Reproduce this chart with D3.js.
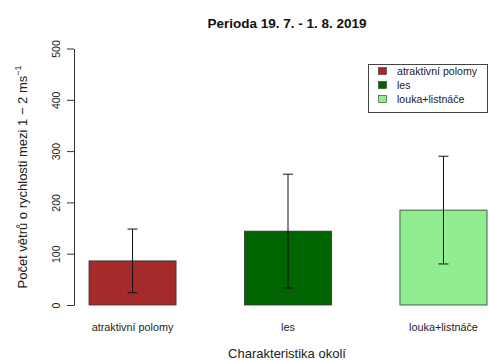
<!DOCTYPE html>
<html>
<head>
<meta charset="utf-8">
<script src="https://cdn.jsdelivr.net/npm/d3@7"></script>
<style>
  html, body { margin: 0; padding: 0; background: #fff; }
  svg { display: block; font-family: "Liberation Sans", Arial, sans-serif; }
</style>
</head>
<body>
<svg id="chart" width="489" height="360"></svg>
<script>
// Data: mean counts per surrounding type with standard deviation
const categories = ["atraktivní polomy", "les", "louka+listnáče"];
const means = [86, 144, 185];
const sds = [62, 111, 105];
const colors = ["#a52a2a", "#006400", "#90ee90"];
const yTicks = [0, 100, 200, 300, 400, 500];

const svg = d3.select("#chart");
const textColor = "#222";

const x = d3.scaleBand()
  .domain(categories)
  .range([89, 487])
  .paddingInner(0.44)
  .paddingOuter(0);

const y = d3.scaleLinear()
  .domain([0, 500])
  .range([305, 48.5]);

// Bars
svg.append("g").selectAll("rect")
  .data(categories)
  .join("rect")
  .attr("x", d => x(d))
  .attr("y", (d, i) => y(means[i]))
  .attr("width", x.bandwidth())
  .attr("height", (d, i) => y(0) - y(means[i]))
  .attr("fill", (d, i) => colors[i])
  .attr("stroke", "#333")
  .attr("stroke-width", 0.8);

// Error bars (mean ± sd)
const eb = svg.append("g").attr("stroke", "#111").attr("stroke-width", 1);
categories.forEach((c, i) => {
  const cx = x(c) + x.bandwidth() / 2;
  const lo = y(means[i] - sds[i]);
  const hi = y(means[i] + sds[i]);
  eb.append("line").attr("x1", cx).attr("x2", cx).attr("y1", lo).attr("y2", hi);
  eb.append("line").attr("x1", cx - 5).attr("x2", cx + 5).attr("y1", lo).attr("y2", lo);
  eb.append("line").attr("x1", cx - 5).attr("x2", cx + 5).attr("y1", hi).attr("y2", hi);
});

// Y axis
const yAxis = svg.append("g")
  .attr("transform", "translate(74,0)")
  .call(d3.axisLeft(y).tickValues(yTicks).tickSize(7).tickSizeOuter(0));
yAxis.select(".domain").attr("stroke", "#333");
yAxis.selectAll(".tick line").attr("stroke", "#333");
yAxis.selectAll(".tick text")
  .attr("fill", textColor)
  .attr("font-size", 10.5)
  .attr("transform", "rotate(-90)")
  .attr("x", 0)
  .attr("y", -18)
  .attr("dy", "0.35em")
  .attr("text-anchor", "middle");

// Category labels under bars
svg.append("g").selectAll("text")
  .data(categories)
  .join("text")
  .attr("x", d => x(d) + x.bandwidth() / 2)
  .attr("y", 331)
  .attr("text-anchor", "middle")
  .attr("font-size", 10.8)
  .attr("fill", textColor)
  .text(d => d);

// Title
svg.append("text")
  .attr("x", 287).attr("y", 28)
  .attr("text-anchor", "middle")
  .attr("font-size", 13.5)
  .attr("font-weight", "bold")
  .attr("fill", "#111")
  .text("Perioda 19. 7. - 1. 8. 2019");

// X axis title
svg.append("text")
  .attr("x", 287).attr("y", 358)
  .attr("text-anchor", "middle")
  .attr("font-size", 13)
  .attr("fill", textColor)
  .text("Charakteristika okolí");

// Y axis title with superscript unit
const yTitle = svg.append("text")
  .attr("transform", "translate(27,177) rotate(-90)")
  .attr("text-anchor", "middle")
  .attr("font-size", 13)
  .attr("fill", textColor);
yTitle.append("tspan").text("Počet větrů o rychlosti mezi 1 \u2212 2 ms");
yTitle.append("tspan").attr("dy", -6).attr("font-size", 9).text("\u22121");

// Legend
const legend = svg.append("g");
legend.append("rect")
  .attr("x", 368.5).attr("y", 64.5)
  .attr("width", 119).attr("height", 48)
  .attr("fill", "#fff")
  .attr("stroke", "#444")
  .attr("stroke-width", 1);
categories.forEach((c, i) => {
  const cy = 71 + i * 14;
  legend.append("rect")
    .attr("x", 378.5).attr("y", cy - 3.5)
    .attr("width", 8).attr("height", 7)
    .attr("fill", colors[i])
    .attr("stroke", "#333")
    .attr("stroke-width", 0.6);
  legend.append("text")
    .attr("x", 397).attr("y", cy)
    .attr("dy", "0.35em")
    .attr("font-size", 10.6)
    .attr("fill", textColor)
    .text(c);
});
</script>
</body>
</html>
